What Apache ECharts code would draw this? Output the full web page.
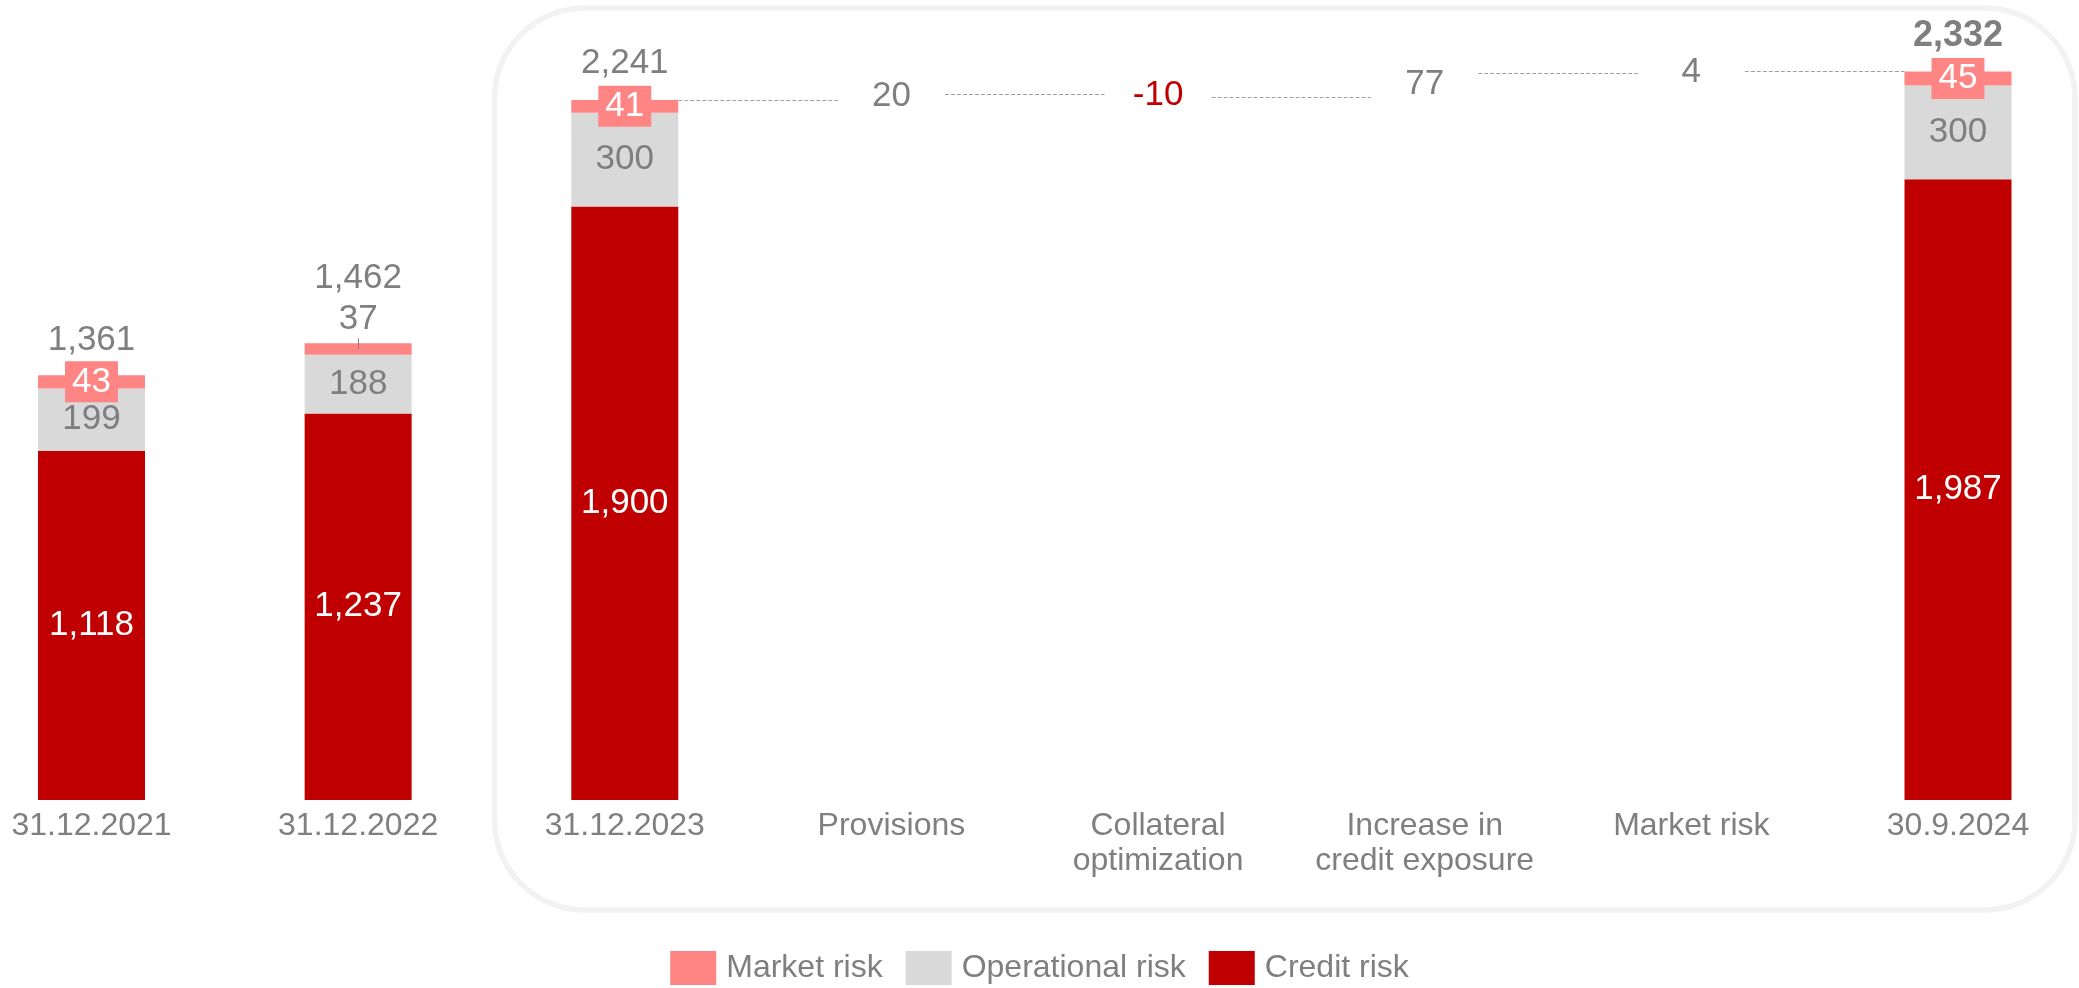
<!DOCTYPE html>
<html>
<head>
<meta charset="utf-8">
<script src="https://cdn.jsdelivr.net/npm/echarts@6/dist/echarts.min.js"></script>
<style>
html,body{margin:0;padding:0;background:#fff;}
#chart{width:2079px;height:988px;}
</style>
</head>
<body>
<div id="chart"></div>
<script>
// ---- data ----
const categories = ['31.12.2021', '31.12.2022', '31.12.2023', 'Provisions', 'Collateral\noptimization', 'Increase in\ncredit exposure', 'Market risk', '30.9.2024'];
const creditRisk = [1118, 1237, 1900, '-', '-', '-', '-', 1987];
const operationalRisk = [199, 188, 300, '-', '-', '-', '-', 300];
const marketRisk = [43, 37, 41, '-', '-', '-', '-', 45];
const totals = [1361, 1462, 2241, '-', '-', '-', '-', 2332];
const changes = ['-', '-', '-', 20, -10, 77, 4, '-'];

// ---- derived waterfall helpers ----
const GRAY = '#7f7f7f';
const RED = '#c00000';
const PINK = '#ff8585';
const LIGHT = '#d9d9d9';
const FONT = '"Liberation Sans", Arial, sans-serif';

const wfBase = [], wfDelta = [], levels = [];
let running = null;
for (let i = 0; i < categories.length; i++) {
  if (changes[i] === '-') {
    wfBase.push('-'); wfDelta.push('-');
    if (totals[i] !== '-') running = totals[i];
  } else {
    const d = changes[i];
    wfBase.push(d >= 0 ? running : running + d);
    wfDelta.push(Math.abs(d));
    running += d;
  }
  levels.push(running);
}
// connector lines from category i to i+1 (inside the bridge part)
const connectors = [];
for (let i = 2; i < categories.length - 1; i++) connectors.push([i, levels[i]]);

const totalDistances = [17, 47, 19, '-', '-', '-', '-', 18];
const totalData = [];
totals.forEach((t, i) => {
  if (t !== '-') totalData.push({
    value: [i, t],
    label: i === categories.length - 1
      ? {distance: totalDistances[i], fontWeight: 'bold', fontSize: 36}
      : {distance: totalDistances[i]}
  });
});

const HALF_BAR = 53.5;

const chart = echarts.init(document.getElementById('chart'));
chart.setOption({
  animation: false,
  backgroundColor: '#fff',
  textStyle: {fontFamily: FONT},
  graphic: [{
    type: 'rect',
    z: -10,
    silent: true,
    shape: {x: 494.5, y: 8, width: 1580.5, height: 902, r: 90},
    style: {fill: 'none', stroke: '#f2f2f2', lineWidth: 5.5}
  }],
  legend: {
    bottom: 3,
    left: 'center',
    padding: 0,
    itemWidth: 46,
    itemHeight: 34,
    itemGap: 23,
    icon: 'rect',
    data: ['Market risk', 'Operational risk', 'Credit risk'],
    textStyle: {fontSize: 32, color: GRAY, fontFamily: FONT, padding: [0, 0, 0, 5]}
  },
  grid: {left: 91.5, right: 121, top: 19, bottom: 188, containLabel: false},
  xAxis: {
    type: 'category',
    data: categories,
    boundaryGap: false,
    axisLine: {show: false},
    axisTick: {show: false},
    splitLine: {show: false},
    axisLabel: {interval: 0, fontSize: 32, color: GRAY, lineHeight: 35, margin: 9, fontFamily: FONT}
  },
  yAxis: {type: 'value', min: 0, max: 2500, show: false, splitLine: {show: false}},
  series: [
    {
      name: 'Credit risk', type: 'bar', stack: 'rwa', barWidth: 107,
      data: creditRisk, itemStyle: {color: RED},
      label: {show: true, position: 'inside', color: '#fff', fontSize: 35, fontFamily: FONT,
        formatter: p => p.value.toLocaleString('en-US')}
    },
    {
      name: 'Operational risk', type: 'bar', stack: 'rwa', barWidth: 107,
      data: operationalRisk, itemStyle: {color: LIGHT},
      label: {show: true, position: 'inside', color: GRAY, fontSize: 35, fontFamily: FONT}
    },
    {
      name: 'Market risk', type: 'bar', stack: 'rwa', barWidth: 107,
      data: marketRisk.map((v, i) => i === 1 ? {
        value: v,
        label: {position: 'top', distance: 6, color: GRAY, backgroundColor: 'transparent', padding: 0}
      } : v),
      itemStyle: {color: PINK},
      label: {show: true, position: 'inside', color: '#fff', fontSize: 35, lineHeight: 35,
        fontFamily: FONT, backgroundColor: PINK, padding: [3, 7, 3, 7]}
    },
    {
      name: 'wfBase', type: 'bar', stack: 'rwa', barWidth: 107, silent: true,
      data: wfBase, itemStyle: {color: 'transparent'}, label: {show: false}
    },
    {
      name: 'wfDelta', type: 'bar', stack: 'rwa', barWidth: 107, silent: true,
      data: wfDelta.map((v, i) => (changes[i] !== '-' && changes[i] < 0) ? {value: v, label: {color: RED}} : v),
      itemStyle: {color: 'transparent'},
      label: {
        show: true, position: 'inside', fontSize: 35, fontFamily: FONT,
        formatter: p => String(changes[p.dataIndex]),
        color: GRAY
      }
    },
    {
      name: 'totals', type: 'scatter', symbolSize: 0, silent: true,
      itemStyle: {opacity: 1},
      data: totalData,
      label: {show: true, position: 'top', fontSize: 35, lineHeight: 35, color: GRAY, opacity: 1, fontFamily: FONT,
        formatter: p => p.value[1].toLocaleString('en-US')}
    },
    {
      name: 'connectors', type: 'custom', silent: true, z: 1,
      data: connectors,
      renderItem: (params, api) => {
        const i = api.value(0), lv = api.value(1);
        const p1 = api.coord([i, lv]);
        const p2 = api.coord([i + 1, lv]);
        const y = Math.round(p1[1]) + 0.5;
        return {
          type: 'line',
          shape: {x1: p1[0] + HALF_BAR, y1: y, x2: p2[0] - HALF_BAR, y2: y},
          style: {stroke: '#a0a0a0', lineWidth: 1, lineDash: [4, 2]}
        };
      }
    },
    {
      name: 'leader', type: 'custom', silent: true, z: 5,
      data: [[1, totals[1]]],
      renderItem: (params, api) => {
        const p = api.coord([api.value(0), api.value(1)]);
        const x = Math.round(p[0]) + 0.5;
        return {
          type: 'line',
          shape: {x1: x, y1: p[1] - 5, x2: x, y2: p[1] + 6},
          style: {stroke: GRAY, lineWidth: 1}
        };
      }
    }
  ]
});
</script>
</body>
</html>
